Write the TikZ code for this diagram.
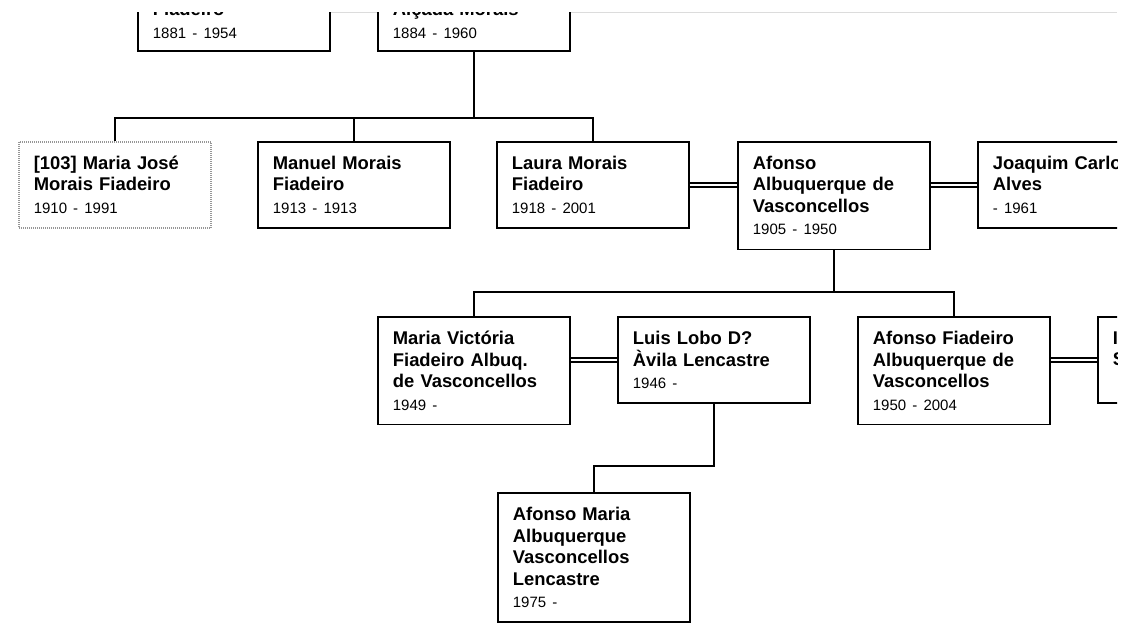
\documentclass[tikz,border=0pt]{standalone}
\usepackage{fontspec}
\newfontfamily\chartfont{Liberation Sans}
\usetikzlibrary{math}
\definecolor{linkgray}{RGB}{150,150,150}
\definecolor{pagegray}{RGB}{220,220,220}
\newcommand{\yrs}[1]{\\[1pt]\fontsize{15}{21.5}\selectfont\mdseries #1}
\tikzset{
  personbox/.style={draw, line width=1.8pt, fill=white, anchor=north west, align=left,
    text width=162pt, inner xsep=15pt, inner ysep=0pt, minimum height=86pt,
    font=\chartfont\fontsize{18.4}{21.5}\selectfont\bfseries},
  linkbox/.style={personbox, draw=linkgray, dash pattern=on 1pt off 1pt, line width=1.5pt},
  marriage/.style={double, double distance=2.5pt, line width=1.4pt},
  descent/.style={line width=1.8pt},
}

\begin{document}
\begin{tikzpicture}[x=1pt,y=-1pt]
\tikzmath{
\rowA=141;
\rowB=316;
\rowC=492;
}
\useasboundingbox (0,0) rectangle (1133,622);
\begin{scope}
\clip (0,12) rectangle (1117,622);
\draw[pagegray, line width=1pt] (329,12.5) -- (1117,12.5);

% parents
\node[personbox, minimum height=60.8] (father) at (137,-10.8) {Fiadeiro\yrs{1881 - 1954}};
\node[personbox, minimum height=60.8] (mother) at (377,-10.8) {Alçada Morais\yrs{1884 - 1960}};

% children
\node[linkbox] (mariajose) at (18,\rowA) {[103] Maria José\\Morais Fiadeiro\yrs{1910 - 1991}};
\node[personbox] (manuel) at (257,\rowA) {Manuel Morais\\Fiadeiro\yrs{1913 - 1913}};
\node[personbox] (laura) at (496,\rowA) {Laura Morais\\Fiadeiro\yrs{1918 - 2001}};
\node[personbox, minimum height=107.5] (afonso) at (737,\rowA) {Afonso\\Albuquerque de\\Vasconcellos\yrs{1905 - 1950}};
\node[personbox] (joaquim) at (977,\rowA) {Joaquim Carlos\\Alves\yrs{- 1961}};

% grandchildren
\node[personbox, minimum height=107.5] (victoria) at (377,\rowB) {Maria Victória\\Fiadeiro Albuq.\\de Vasconcellos\yrs{1949 -}};
\node[personbox] (luis) at (617,\rowB) {Luis Lobo D?\\Àvila Lencastre\yrs{1946 -}};
\node[personbox, minimum height=107.5] (afonsojr) at (857,\rowB) {Afonso Fiadeiro\\Albuquerque de\\Vasconcellos\yrs{1950 - 2004}};
\node[personbox] (inlaw) at (1097,\rowB) {I\\S\yrs{\mbox{}}};

\node[personbox, minimum height=129] (afonsomaria) at (497,\rowC) {Afonso Maria\\Albuquerque\\Vasconcellos\\Lencastre\yrs{1975 -}};

\coordinate (sibs) at (473,118);
\draw[descent] (mother.south) -- (mother.south |- sibs);
\draw[descent] (mariajose.north) |- (laura.north |- sibs) -- (laura.north);
\draw[descent] (manuel.north) -- (manuel.north |- sibs);
\draw[marriage] (laura.east) -- (laura.east -| afonso.west);
\draw[marriage] (afonso.east |- joaquim.west) -- (joaquim.west);

\coordinate (kids) at (833,292);
\draw[descent] (afonso.south) -- (afonso.south |- kids);
\draw[descent] (victoria.north) |- (afonsojr.north |- kids) -- (afonsojr.north);
\draw[marriage] (victoria.east |- luis.west) -- (luis.west);
\draw[marriage] (afonsojr.east |- inlaw.west) -- (inlaw.west);

\coordinate (grandkids) at (713,466);
\draw[descent] (luis.south) -- (luis.south |- grandkids) -| (afonsomaria.north);
\end{scope}
\end{tikzpicture}
\end{document}
